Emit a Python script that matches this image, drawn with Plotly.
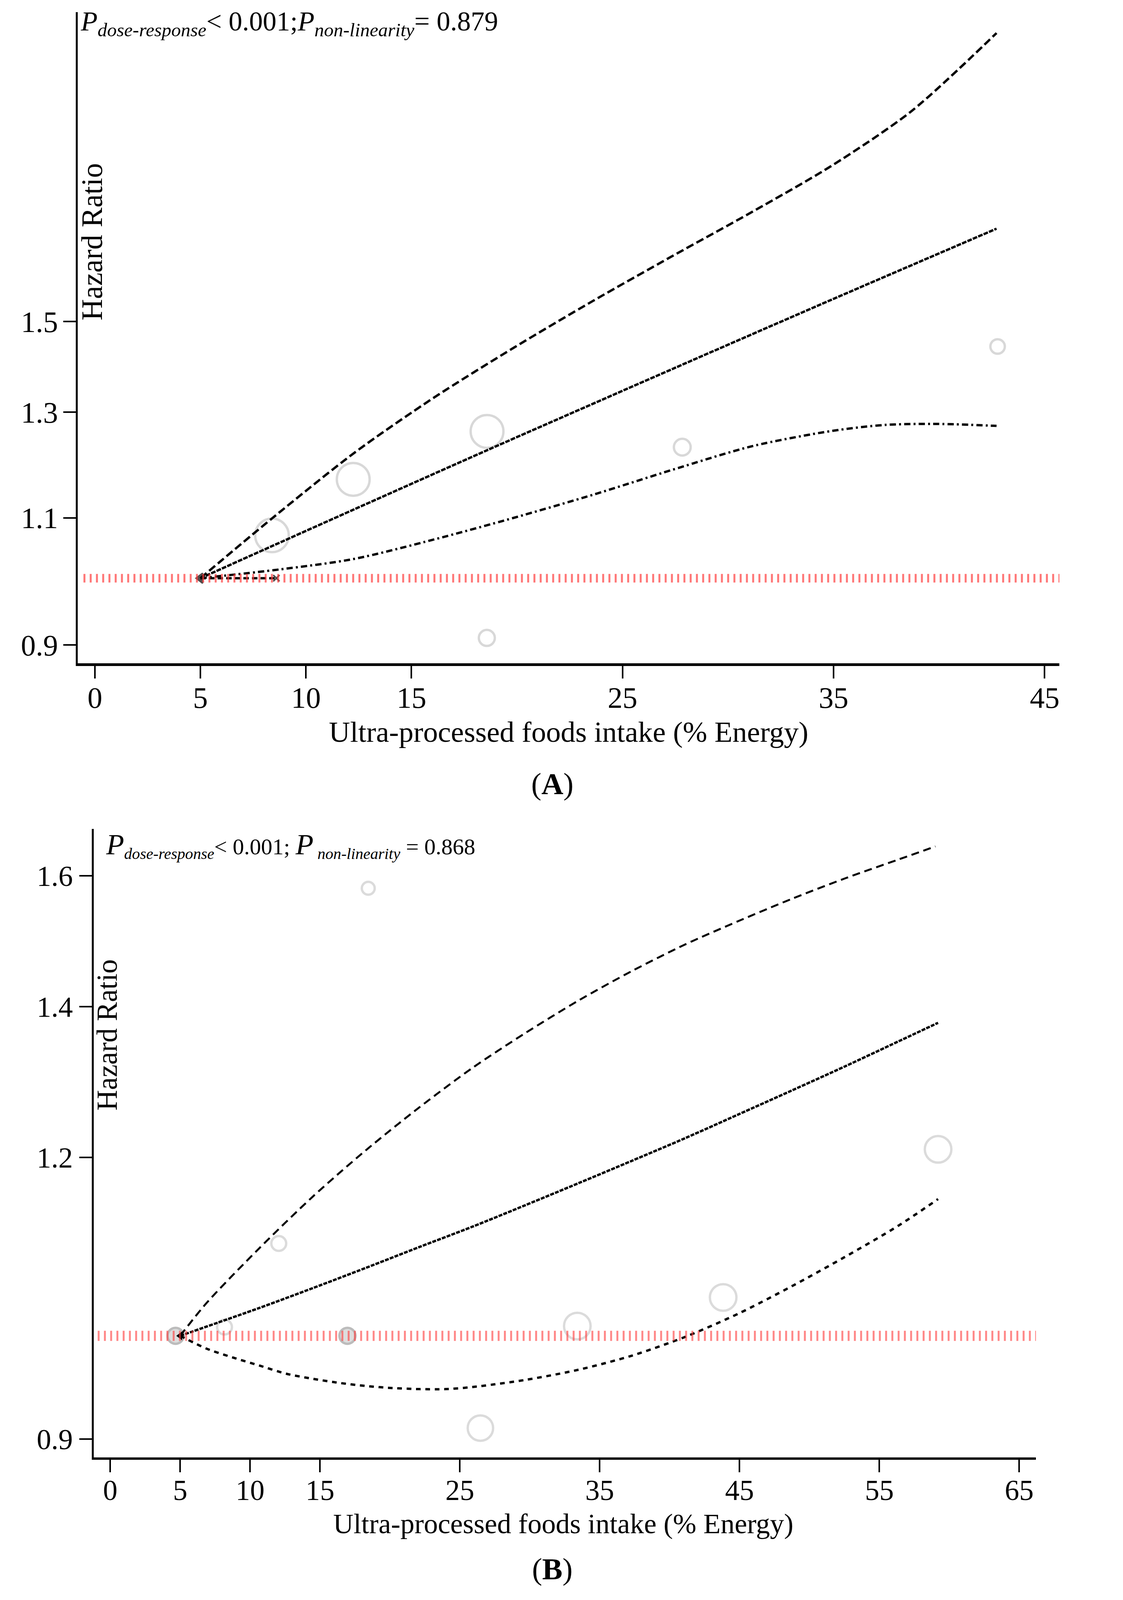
import plotly.graph_objects as go
import math

FONT = "Liberation Serif"
# layout is designed in a 1080 x 1568 frame and scaled to CSS px
S = 2.613
OFF = 8
FW = int(round(1080 * S - 2 * OFF))
FH = int(round(1568 * S - 2 * OFF))

# ---------------- Panel A data ----------------
a_x_ticks = [0, 5, 10, 15, 25, 35, 45]
a_y_ticks = [0.9, 1.1, 1.3, 1.5]
a_x_upper = [5, 8.39, 12.29, 16.06, 19.84, 23.61, 27.38, 31.15, 34.92, 38.70, 42.72]
a_hr_upper = [1.0, 1.099, 1.219, 1.330, 1.439, 1.550, 1.664, 1.784, 1.919, 2.092, 2.366]
a_x_mid = [5, 8.39, 12.29, 18.58, 27.38, 34.92, 42.72]
a_hr_mid = [1.0, 1.052, 1.115, 1.224, 1.392, 1.553, 1.737]
a_x_lower = [5, 8.77, 12.29, 16.06, 19.84, 23.61, 27.38, 31.15, 34.92, 37.44, 39.95, 42.72]
a_hr_lower = [1.0, 1.014, 1.031, 1.063, 1.100, 1.141, 1.187, 1.232, 1.262, 1.274, 1.276, 1.272]
a_x_short = [5, 8.6]
a_hr_short = [1.0, 1.0]
a_study_x = [8.39, 12.24, 18.58, 27.83, 42.77, 18.57]
a_study_hr = [1.070, 1.169, 1.261, 1.230, 1.442, 0.910]
a_study_size = [86, 84, 84, 43, 37, 41]

# ---------------- Panel B data ----------------
b_x_ticks = [0, 5, 10, 15, 25, 35, 45, 55, 65]
b_y_ticks = [0.9, 1.2, 1.4, 1.6]
b_x_upper = [5, 6.88, 10.68, 14.49, 18.29, 22.10, 25.90, 29.71, 33.51, 37.32, 41.13, 44.93,
             48.74, 52.54, 56.35, 59.01]
b_hr_upper = [1.0, 1.034, 1.094, 1.153, 1.209, 1.263, 1.315, 1.363, 1.409, 1.452, 1.492, 1.528,
              1.563, 1.596, 1.627, 1.649]
b_x_mid = [5, 10.68, 14.49, 18.29, 22.10, 25.90, 29.71, 33.51, 37.32, 41.13, 44.93, 48.74,
           52.54, 56.35, 59.20]
b_hr_mid = [1.0, 1.029, 1.050, 1.072, 1.095, 1.118, 1.143, 1.169, 1.196, 1.224, 1.254, 1.285,
            1.317, 1.351, 1.377]
b_x_lower = [5, 6.88, 8.78, 10.68, 12.59, 14.49, 16.39, 18.29, 20.20, 22.10, 24.00, 25.90,
             29.71, 33.51, 37.32, 41.13, 44.93, 48.74, 52.54, 56.35, 59.20]
b_hr_lower = [1.0, 0.987, 0.978, 0.970, 0.962, 0.957, 0.953, 0.950, 0.948, 0.947, 0.947, 0.949,
              0.956, 0.966, 0.980, 0.999, 1.023, 1.052, 1.084, 1.119, 1.150]
b_study_x = [4.67, 8.17, 12.05, 16.96, 18.45, 26.47, 33.40, 43.83, 59.2]
b_study_hr = [1.0, 1.009, 1.099, 1.0, 1.580, 0.910, 1.010, 1.040, 1.21]
b_study_size = [41, 38, 38, 41, 33, 65, 68, 68, 68]
b_study_filled = [True, False, False, True, False, False, False, False, False]

ref_hr = 1.0


def fx(d):
    return (d * S - OFF) / FW


def fy(d):
    return 1 - (d * S - OFF) / FH


fig = go.Figure()

# ---- Panel A traces
fig.add_trace(go.Scatter(x=a_study_x, y=a_study_hr, mode="markers", xaxis="x", yaxis="y",
                         marker=dict(size=a_study_size, color="rgba(0,0,0,0)",
                                     line=dict(color="#c8c8c8", width=6)), showlegend=False))
fig.add_trace(go.Scatter(x=a_x_upper, y=a_hr_upper, mode="lines", xaxis="x", yaxis="y",
                         line=dict(color="black", width=6, dash="20px,9px", shape="spline",
                                   smoothing=0.8), showlegend=False))
fig.add_trace(go.Scatter(x=a_x_mid, y=a_hr_mid, mode="lines", xaxis="x", yaxis="y",
                         line=dict(color="black", width=6, dash="12px,3px", shape="spline",
                                   smoothing=0.8), showlegend=False))
fig.add_trace(go.Scatter(x=a_x_lower, y=a_hr_lower, mode="lines", xaxis="x", yaxis="y",
                         line=dict(color="black", width=6, dash="16px,8px,5px,8px", shape="spline",
                                   smoothing=0.8), showlegend=False))
fig.add_trace(go.Scatter(x=a_x_short, y=a_hr_short, mode="lines+markers", xaxis="x", yaxis="y",
                         line=dict(color="black", width=6, dash="14px,8px"),
                         marker=dict(symbol=["triangle-left", "x-thin"], size=[22, 16], color="black",
                                     line=dict(color="black", width=4)), showlegend=False))

# ---- Panel B traces
b_fill = ["#cfcfcf" if f else "rgba(0,0,0,0)" for f in b_study_filled]
b_edge = ["#a0a0a0" if f else "#cccccc" for f in b_study_filled]
fig.add_trace(go.Scatter(x=b_study_x, y=b_study_hr, mode="markers", xaxis="x2", yaxis="y2",
                         marker=dict(size=b_study_size, color=b_fill,
                                     line=dict(color=b_edge, width=6)), showlegend=False))
fig.add_trace(go.Scatter(x=b_x_upper, y=b_hr_upper, mode="lines", xaxis="x2", yaxis="y2",
                         line=dict(color="black", width=5, dash="20px,12px", shape="spline",
                                   smoothing=0.8), showlegend=False))
fig.add_trace(go.Scatter(x=b_x_mid, y=b_hr_mid, mode="lines", xaxis="x2", yaxis="y2",
                         line=dict(color="black", width=6, dash="10px,3px", shape="spline",
                                   smoothing=0.8), showlegend=False))
fig.add_trace(go.Scatter(x=b_x_lower, y=b_hr_lower, mode="lines", xaxis="x2", yaxis="y2",
                         line=dict(color="black", width=6, dash="12px,12px", shape="spline",
                                   smoothing=0.8), showlegend=False))
fig.add_trace(go.Scatter(x=b_x_mid[:1], y=b_hr_mid[:1], mode="markers", xaxis="x2", yaxis="y2",
                         marker=dict(symbol="triangle-left", size=20, color="black"), showlegend=False))


def axis(size, lw, **kw):
    d = dict(showline=True, linecolor="black", linewidth=lw, ticks="outside", ticklen=32,
             tickwidth=4, tickcolor="black", showgrid=False, zeroline=False,
             tickfont=dict(family=FONT, size=size, color="black"), tickmode="array")
    d.update(kw)
    return d


lg = math.log10
fig.update_layout(
    width=FW, height=FH, margin=dict(l=0, r=0, t=0, b=0),
    paper_bgcolor="white", plot_bgcolor="white",
    xaxis=axis(76, 7, domain=[fx(76), fx(1038)], anchor="y", range=[-0.82, 45.7],
               tickvals=a_x_ticks, ticklabelstandoff=-17),
    yaxis=axis(76, 5, domain=[fy(650), fy(12)], anchor="x", type="log",
               range=[lg(0.874), lg(2.445)], tickvals=a_y_ticks, ticklabelstandoff=-2),
    xaxis2=axis(74, 6, domain=[fx(92), fx(1015)], anchor="y2", range=[-1.17, 66.2],
                tickvals=b_x_ticks, ticklabelstandoff=-18),
    yaxis2=axis(74, 5, domain=[fy(1428), fy(812)], anchor="x2", type="log",
                range=[lg(0.883), lg(1.679)], tickvals=b_y_ticks, ticklabelstandoff=2),
)

# reference lines at HR = 1
fig.add_shape(type="line", xref="x domain", yref="y", x0=0.006, x1=1.0, y0=ref_hr, y1=ref_hr,
              line=dict(color="rgba(255,60,60,0.7)", width=22, dash="5px,11px"))
fig.add_shape(type="line", xref="x2 domain", yref="y2", x0=0.004, x1=1.0, y0=ref_hr, y1=ref_hr,
              line=dict(color="rgba(255,60,60,0.6)", width=26, dash="5px,11px"))


def ann(text, x, y, size, xanchor="center", yanchor="middle", angle=0):
    fig.add_annotation(text=text, x=fx(x), y=fy(y), xref="paper", yref="paper",
                       showarrow=False, xanchor=xanchor, yanchor=yanchor, textangle=angle,
                       font=dict(family=FONT, size=size, color="black"))


ann("<i>P</i><sub><i>dose-response</i></sub>&lt; 0.001;<i>P</i><sub><i>non-linearity</i></sub>= 0.879",
    78, 23, 70, xanchor="left")
ann("Hazard Ratio", 90, 237, 76, angle=-90)
ann("Ultra-processed foods intake (% Energy)", 557, 717, 75)
ann("(<b>A</b>)", 541, 768, 78)

ann("<span style='font-size:75px'><i>P</i></span><sub><i>dose-response</i></sub>&lt; 0.001; "
    "<span style='font-size:75px'><i>P</i></span><sub><i> non-linearity</i></sub> = 0.868",
    103, 828, 58, xanchor="left")
ann("Hazard Ratio", 105, 1014, 73, angle=-90)
ann("Ultra-processed foods intake (% Energy)", 552, 1493, 72)
ann("(<b>B</b>)", 541, 1537, 78)

fig.write_html("out.html")
